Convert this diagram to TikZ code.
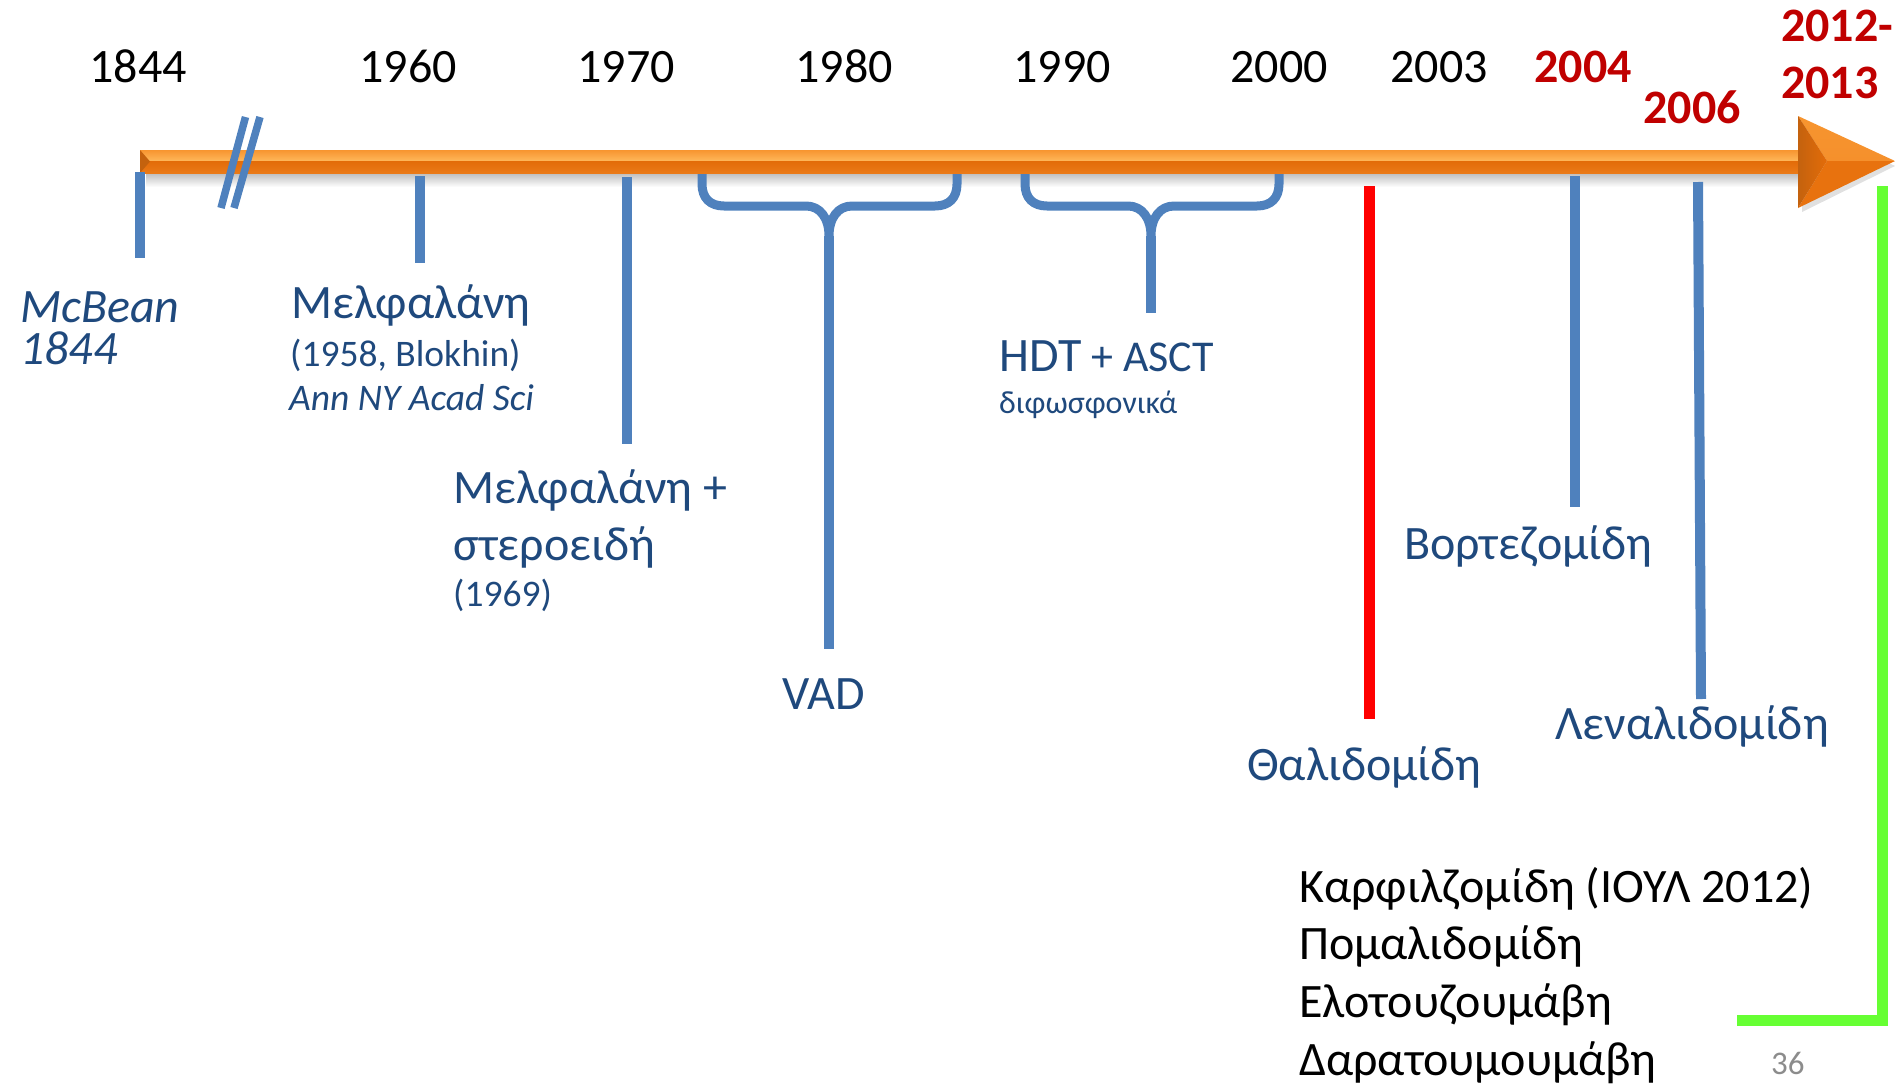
\documentclass[tikz,border=0pt]{standalone}
\usepackage{fontspec}
\setmainfont{Carlito}
\definecolor{lineblue}{HTML}{4F81BD}
\definecolor{txtblue}{HTML}{1F497D}
\definecolor{darkred}{HTML}{C00000}
\definecolor{brightred}{HTML}{FF0000}
\definecolor{lgreen}{HTML}{66FF33}
\definecolor{pgnum}{HTML}{8C8C8C}
\definecolor{orlight}{HTML}{FFBA5E}
\definecolor{ortop}{HTML}{F7952F}
\definecolor{ordark}{HTML}{E36C09}
\definecolor{ordark2}{HTML}{EA7A18}
\definecolor{orbevel}{HTML}{C4620E}
\definecolor{orfacet}{HTML}{F5902C}
\definecolor{orfacetlow}{HTML}{E8720E}
\tikzset{
  yearlbl/.style={inner sep=0pt, anchor=base, font=\fontsize{48}{58}\selectfont},
  yearred/.style={inner sep=0pt, anchor=base, text=darkred, font=\fontsize{48}{58}\selectfont\bfseries},
  lbl/.style={inner sep=0pt, anchor=base west, text=txtblue, font=\fontsize{48}{58}\selectfont},
  sublbl/.style={inner sep=0pt, anchor=base west, text=txtblue, font=\fontsize{37.5}{45}\selectfont},
  smalllbl/.style={inner sep=0pt, anchor=base west, text=txtblue, font=\fontsize{32}{38}\selectfont},
  listlbl/.style={inner sep=0pt, anchor=base west, text=black, font=\fontsize{48}{58}\selectfont},
  tickline/.style={draw=lineblue, line width=10pt},
  bracestyle/.style={draw=lineblue, line width=9pt, line join=round},
  breakline/.style={draw=lineblue, line width=7.5pt},
}
\begin{document}
\begin{tikzpicture}[x=1pt,y=-1pt]
\useasboundingbox (0,0) rectangle (1895,1084);
% ---------- arrow shaft ----------
\shade[top color=black!28, bottom color=white] (146,172) rectangle (1800,187);
\shade[top color=ortop, bottom color=orlight] (140,150) rectangle (1812,162);
\shade[top color=ordark, bottom color=ordark2] (140,161.5) rectangle (1812,173);
\fill[orbevel] (140,150) -- (150,161.5) -- (140,173) -- cycle;
% ---------- arrow head ----------
\coordinate (ahT) at (1798,116);
\coordinate (ahB) at (1798,208);
\coordinate (ahTip) at (1895,161);
\coordinate (ahIn) at (1827,161);
\fill[black!12] (1802,212) -- (1895,166) -- (1802,120) -- cycle;
\shade[top color=ortop, bottom color=orfacet] (ahT) -- (ahTip) -- (ahIn) -- cycle;
\fill[orfacetlow] (ahB) -- (ahTip) -- (ahIn) -- cycle;
\shade[left color=orbevel, right color=ordark] (ahT) -- (ahIn) -- (ahB) -- cycle;
% ---------- break marks ----------
\coordinate (bk1a) at (245.5,117); \coordinate (bk1b) at (221,208);
\coordinate (bk2a) at (260,117);   \coordinate (bk2b) at (234,208);
\draw[breakline] (bk1a) -- (bk1b);
\draw[breakline] (bk2a) -- (bk2b);
% ---------- year labels ----------
\node[yearlbl] (y1844) at (138,82) {1844};
\node[yearlbl] (y1960) at (408,82) {1960};
\node[yearlbl] (y1970) at (626,82) {1970};
\node[yearlbl] (y1980) at (844,82) {1980};
\node[yearlbl] (y1990) at (1062,82) {1990};
\node[yearlbl] (y2000) at (1279,82) {2000};
\node[yearlbl] (y2003) at (1439,82) {2003};
\node[yearred] (y2004) at (1583,82) {2004};
\node[yearred] (y2006) at (1692,123) {2006};
\node[yearred, anchor=base west] (y2012) at (1781,41) {2012-};
\node[yearred, anchor=base west] (y2013) at (1781,98) {2013};
% ---------- ticks ----------
\coordinate (t1a) at (140,172);  \coordinate (t1b) at (140,258);
\coordinate (t2a) at (420,176);  \coordinate (t2b) at (420,263);
\coordinate (t3a) at (627,177);  \coordinate (t3b) at (627,444);
\coordinate (t4a) at (829,236);  \coordinate (t4b) at (829,649);
\coordinate (t5a) at (1151,236); \coordinate (t5b) at (1151,313);
\coordinate (t6a) at (1369,186); \coordinate (t6b) at (1369,719);
\coordinate (t7a) at (1575,176); \coordinate (t7b) at (1575,507);
\coordinate (t8a) at (1698,182); \coordinate (t8b) at (1701,699);
\coordinate (g1) at (1882,186);  \coordinate (g2) at (1882,1020); \coordinate (g3) at (1737,1020);
\draw[tickline] (t1a) -- (t1b);
\draw[tickline] (t2a) -- (t2b);
\draw[tickline] (t3a) -- (t3b);
\draw[tickline] (t4a) -- (t4b);
\draw[tickline] (t5a) -- (t5b);
\draw[draw=brightred, line width=11pt] (t6a) -- (t6b);
\draw[tickline] (t7a) -- (t7b);
\draw[tickline] (t8a) -- (t8b);
\draw[draw=lgreen, line width=11pt] (g1) -- (g2) -- (g3);
% ---------- braces ----------
\draw[bracestyle] (702,174) -- (702,184) .. controls (702,198) and (710,206) .. (724,206)
  -- (806,206) .. controls (820,206) and (829,218) .. (t4a)
  .. controls (829,218) and (838,206) .. (852,206) -- (935,206)
  .. controls (949,206) and (957,198) .. (957,184) -- (957,174);
\draw[bracestyle] (1025,174) -- (1025,184) .. controls (1025,198) and (1033,206) .. (1047,206)
  -- (1128,206) .. controls (1142,206) and (1151,218) .. (t5a)
  .. controls (1151,218) and (1160,206) .. (1174,206) -- (1257,206)
  .. controls (1271,206) and (1279,198) .. (1279,184) -- (1279,174);
% ---------- labels ----------
\node[lbl, font=\fontsize{48}{58}\selectfont\itshape] (mcb1) at (20,322) {McBean};
\node[lbl, font=\fontsize{48}{58}\selectfont\itshape] (mcb2) at (20,364) {1844};
\node[lbl] (mel1) at (291,318) {Μελφαλάνη};
\node[sublbl] (mel2) at (290,366) {(1958, Blokhin)};
\node[sublbl, font=\fontsize{37.5}{45}\selectfont\itshape] (mel3) at (289,410) {Ann NY Acad Sci};
\node[lbl] (ms1) at (453,503) {Μελφαλάνη +};
\node[lbl] (ms2) at (453,560) {στεροειδή};
\node[sublbl] (ms3) at (453,606) {(1969)};
\node[lbl] (vad) at (782,709) {VAD};
\node[lbl] (hdt) at (999,371) {HDT\fontsize{44}{53}\selectfont{} + ASCT};
\node[smalllbl] (bis) at (999,413) {διφωσφονικά};
\node[lbl] (bor) at (1404,559) {Βορτεζομίδη};
\node[lbl] (tha) at (1247,780) {Θαλιδομίδη};
\node[lbl] (len) at (1555,739) {Λεναλιδομίδη};
\node[listlbl] (l1) at (1299,902) {Καρφιλζομίδη (ΙΟΥΛ 2012)};
\node[listlbl] (l2) at (1299,959) {Πομαλιδομίδη};
\node[listlbl] (l3) at (1299,1017) {Ελοτουζουμάβη};
\node[listlbl] (l4) at (1299,1075) {Δαρατουμουμάβη};
\node[inner sep=0pt, anchor=base west, text=pgnum, font=\fontsize{33}{40}\selectfont] (pg) at (1771,1074) {36};
\end{tikzpicture}
\end{document}
